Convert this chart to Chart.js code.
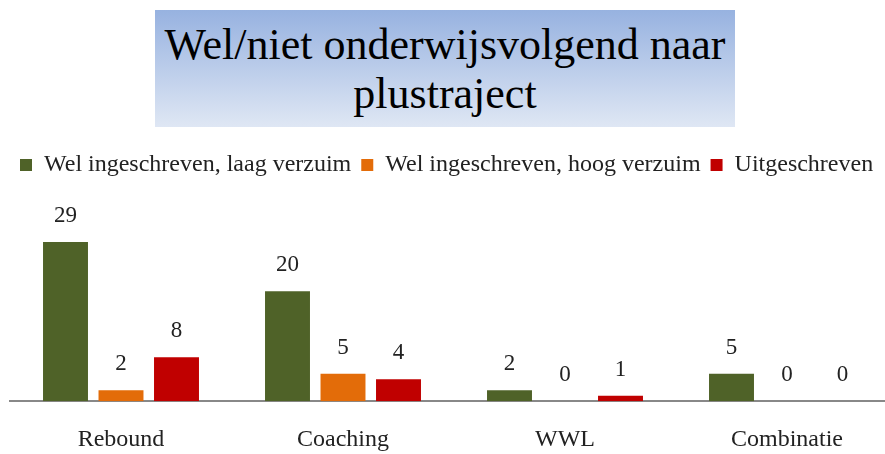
<!DOCTYPE html>
<html><head><meta charset="utf-8">
<script src="https://cdn.jsdelivr.net/npm/chart.js@4/dist/chart.umd.min.js"></script>
<style>
html,body{margin:0;padding:0;background:#fff;overflow:hidden;width:885px;height:454px;}
#title{position:absolute;left:155px;top:10px;width:580px;height:117px;
background:linear-gradient(to bottom,#97b2e0,#dfe7f4);
font-family:"Liberation Serif",serif;font-size:44px;line-height:49px;text-align:center;color:#000;
display:flex;align-items:center;justify-content:center;}
#wrap{position:absolute;left:0;top:143px;width:898px;height:327px;}
</style></head>
<body>
<div id="title"><div>Wel/niet onderwijsvolgend naar<br>plustraject</div></div>
<div id="wrap"><canvas id="c" width="898" height="327"></canvas></div>
<script>
const categories = ["Rebound","Coaching","WWL","Combinatie"];
const seriesNames = ["Wel ingeschreven, laag verzuim","Wel ingeschreven, hoog verzuim","Uitgeschreven"];
const welLaag = [29,20,2,5];
const welHoog = [2,5,0,0];
const uitgeschreven = [8,4,1,0];
const colors = ["#4f6228","#e36c09","#c00000"];

const labelPlugin = {
  id:'vals',
  afterDatasetsDraw(chart){
    const ctx = chart.ctx;
    ctx.save();
    ctx.font = '23px "Liberation Serif", serif';
    ctx.fillStyle = '#222';
    ctx.textAlign = 'center';
    ctx.textBaseline = 'middle';
    chart.data.datasets.forEach((ds,i)=>{
      chart.getDatasetMeta(i).data.forEach((el,j)=>{
        ctx.fillText(String(ds.data[j]), el.x, el.y - 26);
      });
    });
    ctx.restore();
  }
};

new Chart(document.getElementById('c'),{
  type:'bar',
  data:{labels:categories,datasets:[
    {label:seriesNames[0],data:welLaag,backgroundColor:colors[0]},
    {label:seriesNames[1],data:welHoog,backgroundColor:colors[1]},
    {label:seriesNames[2],data:uitgeschreven,backgroundColor:colors[2]}
  ]},
  options:{
    responsive:false,animation:false,
    layout:{padding:{left:10,right:0,top:0,bottom:0}},
    datasets:{bar:{barPercentage:0.81,categoryPercentage:0.75}},
    plugins:{
      legend:{position:'top',align:'start',
        labels:{boxWidth:12,boxHeight:12,padding:10,color:'#222',
          font:{family:'"Liberation Serif", serif',size:24}}},
      tooltip:{enabled:false}
    },
    scales:{
      x:{grid:{display:false},border:{display:true,color:'#888',width:2},
         ticks:{color:'#222',padding:16,font:{family:'"Liberation Serif", serif',size:24}}},
      y:{display:false,min:0,max:39}
    }
  },
  plugins:[labelPlugin]
});
</script>
</body></html>
